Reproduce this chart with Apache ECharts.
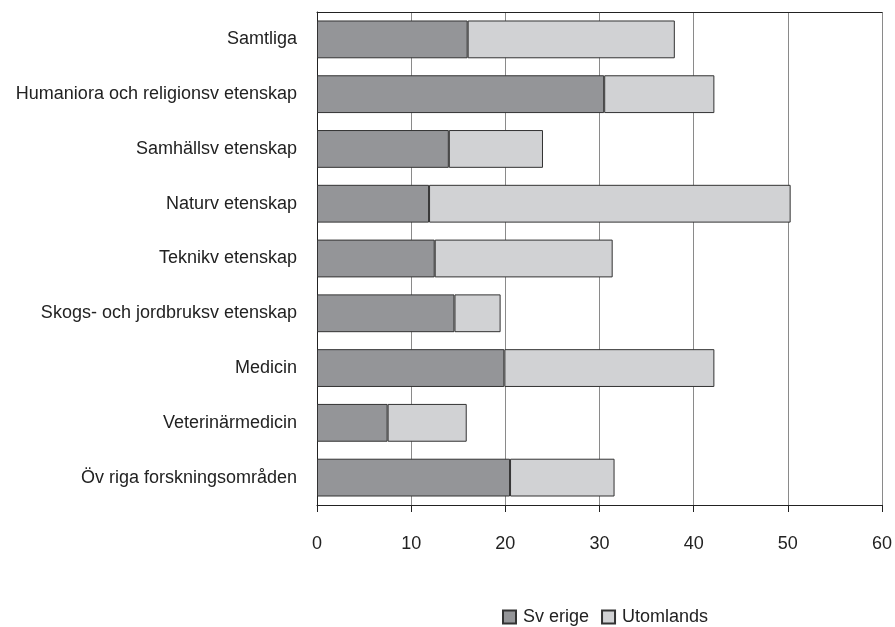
<!DOCTYPE html>
<html><head><meta charset="utf-8">
<script src="https://cdn.jsdelivr.net/npm/echarts@6/dist/echarts.min.js"></script>
<style>html,body{margin:0;padding:0;background:#fff}#c{width:895px;height:627px}</style>
</head><body><div id="c"></div>
<script>
const categories = ["Samtliga","Humaniora och religionsv etenskap","Samhällsv etenskap","Naturv etenskap","Teknikv etenskap","Skogs- och jordbruksv etenskap","Medicin","Veterinärmedicin","Öv riga forskningsområden"];
const sverige = [16, 30.5, 14, 11.9, 12.5, 14.6, 19.9, 7.5, 20.5];
const utomlands = [22, 11.7, 10, 38.4, 18.9, 4.9, 22.3, 8.4, 11.1];
const seriesNames = ["Sv erige","Utomlands"];
const xTicks = [0,10,20,30,40,50,60];

const FONT = '"Liberation Sans Narrow","Liberation Sans",Arial,sans-serif';
const chart = echarts.init(document.getElementById('c'));
chart.setOption({
  animation:false,
  textStyle:{fontFamily:FONT},
  grid:{left:317,right:12,top:12,bottom:122,show:false},
  legend:{top:603,left:497,itemWidth:13,itemHeight:13,itemGap:12,icon:'rect',
    textStyle:{fontFamily:FONT,fontSize:18,color:'#222',padding:[0,0,0,2]},
    data:seriesNames.map(n=>({name:n}))},
  xAxis:[{type:'value',min:xTicks[0],max:xTicks[xTicks.length-1],interval:10,
    axisLine:{show:true,lineStyle:{color:'#222',width:1}},
    axisTick:{show:true,length:7,lineStyle:{color:'#222'}},
    axisLabel:{fontFamily:FONT,fontSize:18,color:'#222',margin:30},
    splitLine:{show:true,lineStyle:{color:'#8a8a8a',width:1}}},
   {type:'value',position:'top',min:xTicks[0],max:xTicks[xTicks.length-1],interval:10,
    axisLine:{show:true,lineStyle:{color:'#222',width:1}},
    axisTick:{show:false},axisLabel:{show:false},splitLine:{show:false}}],
  yAxis:{type:'category',data:categories,inverse:true,
    axisLine:{show:true,lineStyle:{color:'#222'}},
    axisTick:{show:false},
    axisLabel:{fontFamily:FONT,fontSize:18,color:'#222',margin:20}},
  series:[
    {name:seriesNames[0],type:'bar',stack:'a',data:sverige,barCategoryGap:'31%',
      itemStyle:{color:'#949598',borderColor:'#333',borderWidth:1}},
    {name:seriesNames[1],type:'bar',stack:'a',data:utomlands,barCategoryGap:'31%',
      itemStyle:{color:'#d1d2d4',borderColor:'#333',borderWidth:1}}
  ]
});
</script></body></html>
